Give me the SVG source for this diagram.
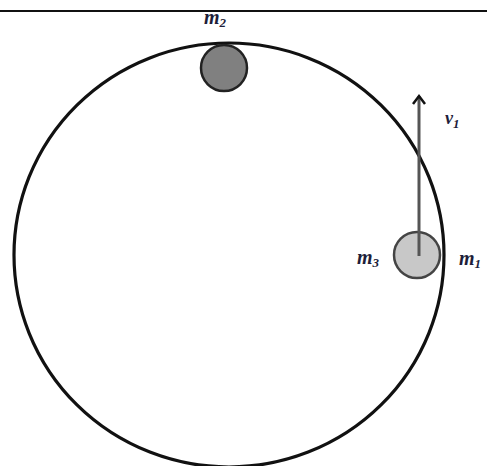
<svg xmlns="http://www.w3.org/2000/svg" width="487" height="466" viewBox="0 0 487 466">
<style>
.lbl{font-family:"Liberation Serif",serif;font-style:italic;font-weight:bold;font-size:20px;fill:#1e1e3a}
.sub{font-size:13px}
</style>
<defs>
<marker id="ah" markerWidth="14" markerHeight="14" refX="11" refY="7" orient="auto" markerUnits="userSpaceOnUse" viewBox="0 0 14 14">
<path d="M3,1 L11,7 L3,13" fill="none" stroke="#111" stroke-width="2.5"/>
</marker>
</defs>
<rect width="487" height="466" fill="#fff"/>
<line x1="0" y1="11" x2="487" y2="11" stroke="#111" stroke-width="2"/>
<g id="track">
<ellipse cx="229" cy="255" rx="215" ry="212" fill="none" stroke="#111" stroke-width="3.2"/>
</g>
<g id="ball-m2">
<circle cx="224" cy="68" r="23" fill="#808080" stroke="#222" stroke-width="2.5"/>
<text class="lbl" x="204" y="24">m<tspan class="sub" dy="3">2</tspan></text>
</g>
<g id="ball-m1">
<circle cx="417" cy="255" r="23" fill="#c8c8c8" stroke="#444" stroke-width="2.5"/>
<text class="lbl" x="357" y="264">m<tspan class="sub" dy="3">3</tspan></text>
<text class="lbl" x="459" y="265">m<tspan class="sub" dy="3">1</tspan></text>
</g>
<g id="connectors">
<line x1="419" y1="256" x2="419" y2="96" stroke="#555" stroke-width="3" marker-end="url(#ah)"/>
<text class="lbl" x="445" y="124" style="font-size:18px">v<tspan class="sub" dy="4">1</tspan></text>
</g>
</svg>
